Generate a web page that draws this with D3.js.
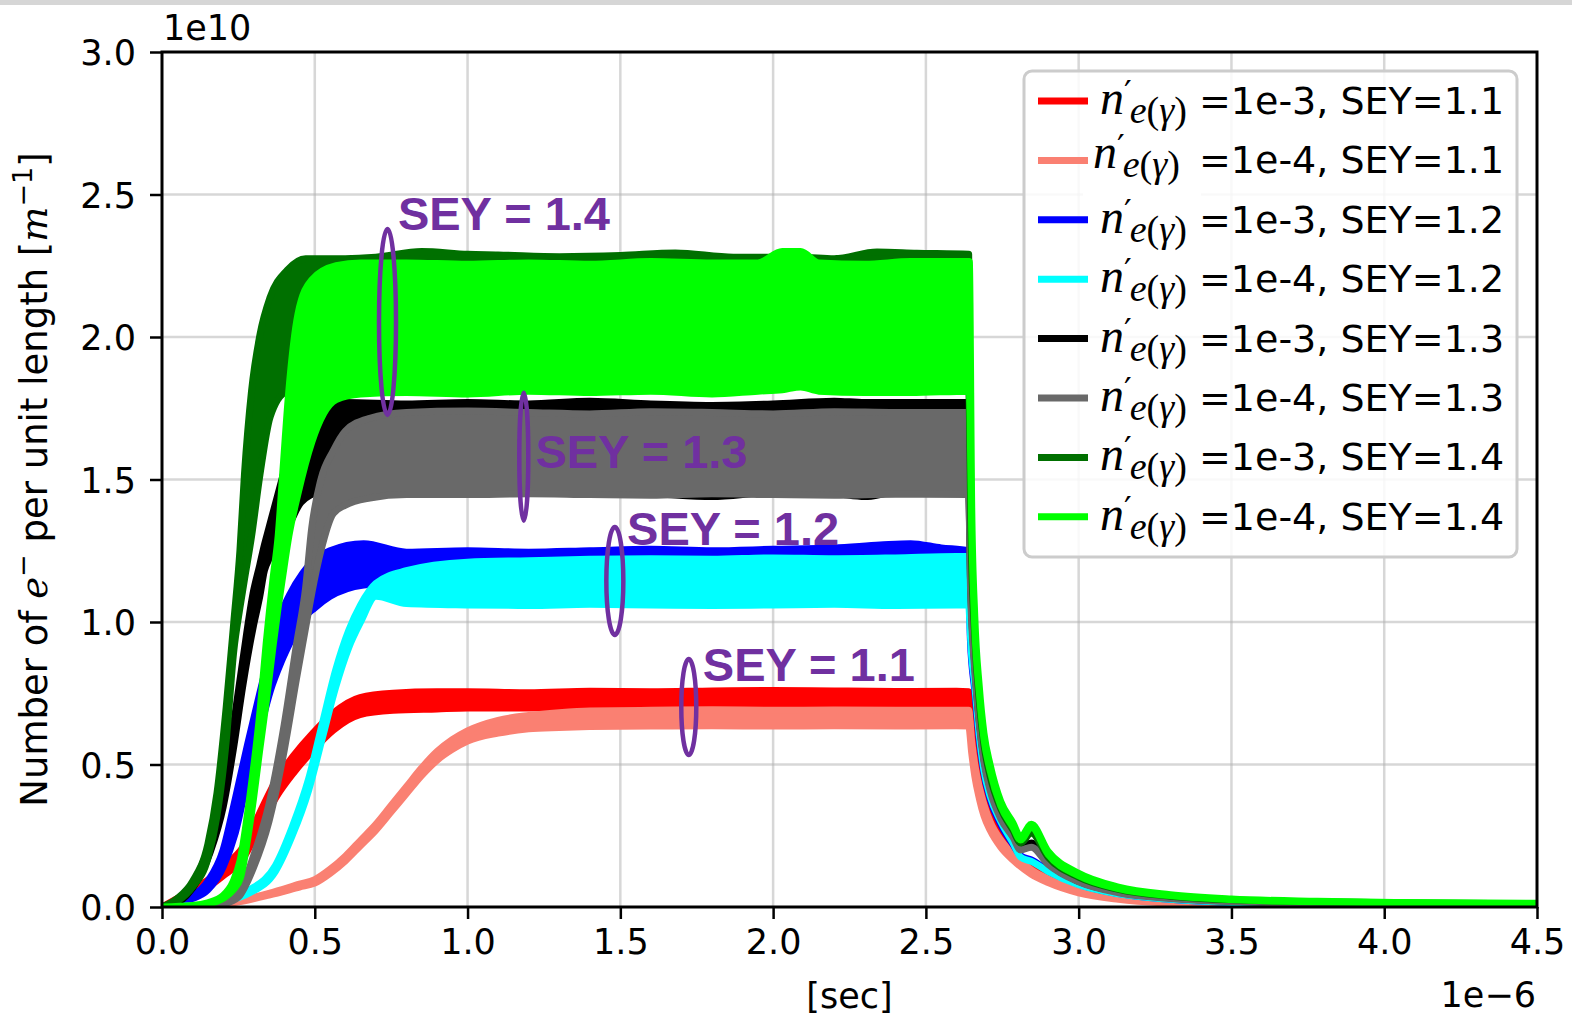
<!DOCTYPE html>
<html>
<head>
<meta charset="utf-8">
<script src="https://cdn.jsdelivr.net/npm/d3@7"></script>
<style>
  body { margin: 0; background: #fff; }
  svg { display: block; }
  .tick text { font-family: "DejaVu Sans"; font-size: 35px; fill: #000; }
</style>
</head>
<body>
<svg></svg>
<script>
// time in 1e-6 s, electrons in 1e10 per m
const xTicks = [0, 0.5, 1.0, 1.5, 2.0, 2.5, 3.0, 3.5, 4.0, 4.5];
const yTicks = [0, 0.5, 1.0, 1.5, 2.0, 2.5, 3.0];

const seriesNames = ["1e-3, SEY=1.1", "1e-4, SEY=1.1", "1e-3, SEY=1.2", "1e-4, SEY=1.2",
                     "1e-3, SEY=1.3", "1e-4, SEY=1.3", "1e-3, SEY=1.4", "1e-4, SEY=1.4"];
const seriesColors = ["#ff0000", "#fa8072", "#0000ff", "#00ffff", "#000000", "#696969", "#007000", "#00ff00"];

// [t, upper envelope, lower envelope]
const red11 = [
  [0, 0, 0], [0.05, 0.03, 0.02], [0.1, 0.06, 0.04], [0.157, 0.1, 0.075], [0.2, 0.14, 0.11],
  [0.265, 0.21, 0.17], [0.32, 0.33, 0.28], [0.376, 0.45, 0.39], [0.43, 0.53, 0.47],
  [0.494, 0.61, 0.55], [0.56, 0.68, 0.62], [0.648, 0.735, 0.675], [0.756, 0.75, 0.69],
  [0.9, 0.755, 0.695], [1.0, 0.755, 0.698], [1.2, 0.752, 0.698], [1.4, 0.757, 0.70],
  [1.6, 0.755, 0.70], [1.8, 0.758, 0.702], [2.0, 0.76, 0.703], [2.2, 0.758, 0.70],
  [2.4, 0.756, 0.70], [2.6, 0.757, 0.70], [2.64, 0.755, 0.70],
  [2.65, 0.62, 0.62], [2.66, 0.54, 0.54], [2.675, 0.45, 0.45], [2.69, 0.385, 0.385],
  [2.71, 0.33, 0.33], [2.745, 0.26, 0.26], [2.785, 0.205, 0.205], [2.81, 0.178, 0.178],
  [2.845, 0.15, 0.15], [2.9, 0.113, 0.113], [3.0, 0.07, 0.07], [3.13, 0.04, 0.04],
  [3.3, 0.021, 0.021], [3.5, 0.011, 0.011], [4.0, 0.005, 0.005], [4.5, 0.003, 0.003]
];
const salmon11 = [
  [0, 0, 0], [0.15, 0.006, 0.004], [0.25, 0.022, 0.018], [0.35, 0.048, 0.042], [0.45, 0.08, 0.07],
  [0.5, 0.096, 0.084], [0.55, 0.132, 0.118], [0.6, 0.178, 0.162], [0.65, 0.234, 0.216],
  [0.7, 0.29, 0.27], [0.75, 0.356, 0.334], [0.8, 0.422, 0.398], [0.85, 0.488, 0.462],
  [0.9, 0.545, 0.515], [0.95, 0.587, 0.553], [1.0, 0.618, 0.582], [1.1, 0.655, 0.61],
  [1.2, 0.672, 0.625], [1.3, 0.682, 0.63], [1.4, 0.688, 0.633], [1.6, 0.69, 0.635],
  [1.8, 0.692, 0.636], [2.0, 0.69, 0.635], [2.2, 0.691, 0.636], [2.4, 0.69, 0.635],
  [2.6, 0.69, 0.636], [2.64, 0.69, 0.635],
  [2.65, 0.58, 0.54], [2.66, 0.50, 0.46], [2.675, 0.42, 0.38], [2.69, 0.36, 0.32],
  [2.71, 0.30, 0.27], [2.745, 0.235, 0.21], [2.785, 0.185, 0.165], [2.845, 0.13, 0.115],
  [2.9, 0.098, 0.086], [3.0, 0.058, 0.05], [3.13, 0.032, 0.027], [3.3, 0.016, 0.013],
  [3.5, 0.008, 0.006], [4.0, 0.004, 0.003], [4.5, 0.003, 0.002]
];
const blue12 = [
  [0, 0, 0], [0.066, 0.025, 0.02], [0.1, 0.04, 0.03], [0.15, 0.09, 0.06], [0.2, 0.2, 0.14],
  [0.24, 0.38, 0.26], [0.28, 0.57, 0.45], [0.32, 0.75, 0.62], [0.355, 0.9, 0.76],
  [0.39, 1.03, 0.86], [0.42, 1.1, 0.93], [0.46, 1.17, 1.01], [0.5, 1.22, 1.05],
  [0.55, 1.25, 1.09], [0.66, 1.275, 1.13], [0.8, 1.245, 1.14], [1.0, 1.25, 1.14],
  [1.2, 1.245, 1.14], [1.4, 1.25, 1.14], [1.6, 1.255, 1.14], [1.8, 1.25, 1.14],
  [2.0, 1.255, 1.14], [2.2, 1.26, 1.14], [2.35, 1.27, 1.14], [2.45, 1.275, 1.14],
  [2.55, 1.26, 1.14], [2.64, 1.25, 1.14],
  [2.646, 0.93, 0.93], [2.66, 0.76, 0.76], [2.675, 0.585, 0.585], [2.69, 0.47, 0.47],
  [2.71, 0.38, 0.38], [2.745, 0.29, 0.29], [2.785, 0.22, 0.22], [2.81, 0.18, 0.18],
  [2.845, 0.165, 0.165], [2.9, 0.128, 0.128], [3.0, 0.08, 0.08], [3.13, 0.047, 0.047],
  [3.3, 0.027, 0.027], [3.5, 0.016, 0.016], [4.0, 0.008, 0.008], [4.5, 0.006, 0.006]
];
const cyan12 = [
  [0, 0, 0], [0.1, 0.004, 0.002], [0.2, 0.022, 0.018], [0.284, 0.058, 0.048], [0.371, 0.145, 0.125],
  [0.426, 0.28, 0.25], [0.48, 0.45, 0.41], [0.524, 0.64, 0.59], [0.568, 0.83, 0.77],
  [0.611, 0.97, 0.91], [0.65, 1.06, 1.0], [0.7, 1.135, 1.09], [0.8, 1.18, 1.065],
  [1.0, 1.21, 1.06], [1.2, 1.215, 1.058], [1.4, 1.22, 1.062], [1.6, 1.222, 1.06],
  [1.8, 1.22, 1.058], [2.0, 1.225, 1.06], [2.2, 1.222, 1.062], [2.4, 1.225, 1.058],
  [2.6, 1.23, 1.06], [2.64, 1.23, 1.06],
  [2.646, 0.95, 0.95], [2.66, 0.78, 0.78], [2.675, 0.6, 0.6], [2.69, 0.48, 0.48],
  [2.71, 0.39, 0.39], [2.745, 0.3, 0.3], [2.785, 0.225, 0.225], [2.81, 0.175, 0.175],
  [2.845, 0.16, 0.16], [2.9, 0.125, 0.125], [3.0, 0.078, 0.078], [3.13, 0.046, 0.046],
  [3.3, 0.027, 0.027], [3.5, 0.016, 0.016], [4.0, 0.008, 0.008], [4.5, 0.006, 0.006]
];
const black13 = [
  [0, 0, 0], [0.05, 0.02, 0.015], [0.08, 0.05, 0.04], [0.157, 0.225, 0.19], [0.2, 0.4, 0.35],
  [0.233, 0.63, 0.55], [0.265, 0.87, 0.78], [0.298, 1.1, 0.98], [0.32, 1.2, 1.09],
  [0.335, 1.27, 1.18], [0.35, 1.33, 1.22], [0.38, 1.45, 1.27], [0.42, 1.6, 1.35],
  [0.455, 1.68, 1.42], [0.52, 1.75, 1.455], [0.6, 1.77, 1.455], [0.8, 1.765, 1.455],
  [1.0, 1.77, 1.45], [1.2, 1.765, 1.455], [1.4, 1.775, 1.455], [1.6, 1.765, 1.45],
  [1.8, 1.76, 1.44], [2.0, 1.765, 1.455], [2.2, 1.775, 1.45], [2.3, 1.77, 1.44],
  [2.4, 1.77, 1.455], [2.64, 1.77, 1.455],
  [2.646, 1.15, 1.15], [2.66, 0.85, 0.85], [2.675, 0.65, 0.65], [2.69, 0.52, 0.52],
  [2.71, 0.42, 0.42], [2.745, 0.32, 0.32], [2.785, 0.25, 0.25], [2.81, 0.21, 0.21],
  [2.845, 0.225, 0.225], [2.9, 0.155, 0.155], [3.0, 0.09, 0.09], [3.13, 0.053, 0.053],
  [3.3, 0.032, 0.032], [3.5, 0.02, 0.02], [4.0, 0.011, 0.011], [4.5, 0.008, 0.008]
];
const gray13 = [
  [0, 0, 0], [0.15, 0.005, 0.003], [0.2, 0.02, 0.01], [0.25, 0.05, 0.035], [0.3, 0.18, 0.14],
  [0.35, 0.36, 0.3], [0.4, 0.64, 0.55], [0.44, 0.92, 0.8], [0.47, 1.12, 0.98],
  [0.49, 1.33, 1.1], [0.52, 1.5, 1.25], [0.56, 1.6, 1.38], [0.6, 1.67, 1.41],
  [0.68, 1.715, 1.435], [0.8, 1.735, 1.447], [1.0, 1.74, 1.447], [1.2, 1.735, 1.45],
  [1.4, 1.73, 1.447], [1.6, 1.738, 1.445], [1.8, 1.735, 1.45], [2.0, 1.73, 1.447],
  [2.2, 1.738, 1.445], [2.4, 1.735, 1.448], [2.64, 1.735, 1.447],
  [2.646, 1.12, 1.12], [2.66, 0.83, 0.83], [2.675, 0.64, 0.64], [2.69, 0.51, 0.51],
  [2.71, 0.41, 0.41], [2.745, 0.31, 0.31], [2.785, 0.245, 0.245], [2.81, 0.2, 0.2],
  [2.845, 0.21, 0.21], [2.9, 0.15, 0.15], [3.0, 0.088, 0.088], [3.13, 0.05, 0.05],
  [3.3, 0.03, 0.03], [3.5, 0.019, 0.019], [4.0, 0.01, 0.01], [4.5, 0.007, 0.007]
];
const green14 = [
  [0, 0, 0], [0.05, 0.03, 0.02], [0.1, 0.09, 0.07], [0.15, 0.22, 0.17], [0.18, 0.4, 0.32],
  [0.21, 0.7, 0.58], [0.235, 1.0, 0.9], [0.255, 1.25, 1.05], [0.27, 1.52, 1.15],
  [0.293, 1.81, 1.3], [0.321, 2.01, 1.52], [0.354, 2.14, 1.72], [0.41, 2.235, 1.81],
  [0.47, 2.275, 1.82], [0.6, 2.275, 1.82], [0.7, 2.28, 1.82], [0.85, 2.3, 1.82],
  [1.0, 2.29, 1.82], [1.1, 2.288, 1.82], [1.3, 2.282, 1.82], [1.5, 2.286, 1.82],
  [1.68, 2.295, 1.82], [1.87, 2.28, 1.82], [2.09, 2.28, 1.83], [2.2, 2.275, 1.82],
  [2.34, 2.298, 1.82], [2.47, 2.294, 1.82], [2.64, 2.29, 1.82],
  [2.648, 1.3, 1.3], [2.66, 0.95, 0.95], [2.675, 0.72, 0.72], [2.69, 0.57, 0.57],
  [2.71, 0.46, 0.46], [2.745, 0.345, 0.345], [2.785, 0.27, 0.27], [2.81, 0.225, 0.225],
  [2.845, 0.26, 0.26], [2.9, 0.175, 0.175], [3.0, 0.105, 0.105], [3.13, 0.062, 0.062],
  [3.3, 0.038, 0.038], [3.5, 0.025, 0.025], [4.0, 0.015, 0.015], [4.5, 0.011, 0.011]
];
const lime14 = [
  [0, 0, 0], [0.1, 0.005, 0.003], [0.15, 0.015, 0.01], [0.2, 0.04, 0.03], [0.233, 0.09, 0.06],
  [0.256, 0.165, 0.1], [0.289, 0.4, 0.3], [0.321, 0.69, 0.56], [0.341, 0.926, 0.72],
  [0.364, 1.158, 0.92], [0.38, 1.3, 1.05], [0.395, 1.52, 1.16], [0.415, 1.81, 1.3],
  [0.445, 2.08, 1.45], [0.49, 2.2, 1.63], [0.57, 2.25, 1.78], [0.65, 2.26, 1.8],
  [0.8, 2.26, 1.805], [1.0, 2.255, 1.8], [1.2, 2.26, 1.81], [1.4, 2.255, 1.805],
  [1.6, 2.265, 1.81], [1.8, 2.26, 1.8], [1.95, 2.26, 1.81], [2.03, 2.3, 1.815],
  [2.09, 2.3, 1.825], [2.15, 2.26, 1.81], [2.3, 2.255, 1.805], [2.45, 2.265, 1.805],
  [2.642, 2.265, 1.81],
  [2.65, 1.4, 1.32], [2.66, 1.02, 0.98], [2.675, 0.77, 0.75], [2.69, 0.61, 0.59],
  [2.71, 0.5, 0.48], [2.745, 0.37, 0.355], [2.785, 0.295, 0.28], [2.81, 0.245, 0.235],
  [2.845, 0.29, 0.28], [2.9, 0.195, 0.185], [3.0, 0.118, 0.11], [3.13, 0.07, 0.065],
  [3.3, 0.043, 0.04], [3.5, 0.028, 0.026], [3.78, 0.02, 0.018], [4.05, 0.016, 0.014],
  [4.5, 0.013, 0.011]
];
const seriesData = [red11, salmon11, blue12, cyan12, black13, gray13, green14, lime14];

// purple call-outs: ellipse centre (t, value) and label anchor (t, value)
const calloutText = ["SEY = 1.4", "SEY = 1.3", "SEY = 1.2", "SEY = 1.1"];
const calloutEllipse = [[0.738, 2.053], [1.184, 1.58], [1.482, 1.144], [1.724, 0.702]];
const calloutEllipseSize = [[8.5, 93], [4.5, 64], [8.5, 54], [7.5, 48]];
const calloutLabel = [[0.772, 2.375], [1.222, 1.54], [1.522, 1.27], [1.77, 0.794]];

const width = 1572;
const height = 1015;
const mLeft = 162, mRight = 1537, mTop = 52, mBottom = 907;

const svg = d3.select("svg").attr("width", width).attr("height", height);
svg.append("rect").attr("width", width).attr("height", height).attr("fill", "#fff");
svg.append("rect").attr("width", width).attr("height", 5).attr("fill", "#d6d6d6");

const x = d3.scaleLinear().domain([0, 4.5]).range([mLeft, mRight]);
const y = d3.scaleLinear().domain([0, 3.0]).range([mBottom, mTop]);

// grid
const grid = svg.append("g").attr("stroke", "#b0b0b0").attr("stroke-opacity", 0.5).attr("stroke-width", 2.5);
grid.selectAll("line.gx").data(xTicks.slice(1, -1)).enter().append("line")
  .attr("x1", d => x(d)).attr("x2", d => x(d)).attr("y1", mTop).attr("y2", mBottom);
grid.selectAll("line.gy").data(yTicks.slice(1, -1)).enter().append("line")
  .attr("x1", mLeft).attr("x2", mRight).attr("y1", d => y(d)).attr("y2", d => y(d));

// series
svg.append("clipPath").attr("id", "plot").append("rect")
  .attr("x", mLeft).attr("y", mTop).attr("width", mRight - mLeft).attr("height", mBottom - mTop);

const area = d3.area().curve(d3.curveMonotoneX)
  .x(d => x(d[0])).y0(d => y(d[2])).y1(d => y(d[1]));
const lines = svg.append("g").attr("clip-path", "url(#plot)");
seriesData.forEach((data, i) => {
  lines.append("path").datum(data).attr("d", area)
    .attr("fill", seriesColors[i]).attr("stroke", seriesColors[i])
    .attr("stroke-width", 7).attr("stroke-linejoin", "round").attr("stroke-linecap", "round");
});

// call-outs
const purple = "#7030a0";
calloutText.forEach((t, i) => {
  svg.append("ellipse")
    .attr("cx", x(calloutEllipse[i][0])).attr("cy", y(calloutEllipse[i][1]))
    .attr("rx", calloutEllipseSize[i][0]).attr("ry", calloutEllipseSize[i][1])
    .attr("fill", "none").attr("stroke", purple).attr("stroke-width", 4.5);
  svg.append("text").text(t)
    .attr("x", x(calloutLabel[i][0])).attr("y", y(calloutLabel[i][1]))
    .attr("font-family", "Liberation Sans").attr("font-weight", "bold").attr("font-size", 47)
    .attr("fill", purple);
});

// axes
const xAxis = d3.axisBottom(x).tickValues(xTicks).tickFormat(d3.format(".1f")).tickSize(12).tickPadding(10);
const yAxis = d3.axisLeft(y).tickValues(yTicks).tickFormat(d3.format(".1f")).tickSize(12).tickPadding(14);
const gx = svg.append("g").attr("transform", `translate(0, ${mBottom})`).call(xAxis);
const gy = svg.append("g").attr("transform", `translate(${mLeft}, 0)`).call(yAxis);
[gx, gy].forEach(g => {
  g.select(".domain").remove();
  g.selectAll(".tick line").attr("stroke", "#000").attr("stroke-width", 2.5);
});
gy.selectAll(".tick text").attr("dy", "0.36em");

svg.append("rect").attr("x", mLeft).attr("y", mTop).attr("width", mRight - mLeft).attr("height", mBottom - mTop)
  .attr("fill", "none").attr("stroke", "#000").attr("stroke-width", 3);

svg.append("text").text("1e10").attr("x", 163).attr("y", 40)
  .attr("font-family", "DejaVu Sans").attr("font-size", 35);
svg.append("text").text("1e\u22126").attr("x", 1536).attr("y", 1007).attr("text-anchor", "end")
  .attr("font-family", "DejaVu Sans").attr("font-size", 35);
svg.append("text").text("[sec]").attr("x", (mLeft + mRight) / 2).attr("y", 1008).attr("text-anchor", "middle")
  .attr("font-family", "DejaVu Sans").attr("font-size", 35);

const ylab = svg.append("text")
  .attr("transform", `translate(47, ${(mTop + mBottom) / 2}) rotate(-90)`)
  .attr("text-anchor", "middle").attr("font-family", "DejaVu Sans").attr("font-size", 37);
ylab.append("tspan").text("Number of ");
ylab.append("tspan").text("e").attr("font-family", "DejaVu Serif").attr("font-style", "italic");
ylab.append("tspan").text("\u2212").attr("font-size", 27).attr("dy", -15);
ylab.append("tspan").text(" per unit length [").attr("dy", 15);
ylab.append("tspan").text("m").attr("font-family", "DejaVu Serif").attr("font-style", "italic");
ylab.append("tspan").text("\u22121").attr("font-size", 27).attr("dy", -15);
ylab.append("tspan").text("]").attr("dy", 15);

// legend
const legend = svg.append("g");
legend.append("rect").attr("x", 1024).attr("y", 71).attr("width", 493).attr("height", 486).attr("rx", 8)
  .attr("fill", "#fff").attr("fill-opacity", 0.85).attr("stroke", "#cccccc").attr("stroke-width", 3);
legend.append("rect").attr("x", 1083).attr("y", 131).attr("width", 118).attr("height", 65).attr("fill", "#fff");

seriesNames.forEach((name, i) => {
  const ly = 101 + i * 59.4;
  const off = i === 1 ? [-7, -5] : [0, 0];
  const row = legend.append("g");
  row.append("line").attr("x1", 1038).attr("x2", 1088).attr("y1", ly).attr("y2", ly)
    .attr("stroke", seriesColors[i]).attr("stroke-width", 7);
  // n'_{e(gamma)} as one text
  const math = row.append("text").attr("x", 1100 + off[0]).attr("y", ly + 13 + off[1])
    .attr("font-family", "Liberation Serif").attr("font-size", 38);
  math.append("tspan").text("n").attr("font-style", "italic").attr("font-size", 48);
  math.append("tspan").text("\u2032").attr("font-family", "DejaVu Sans").attr("font-size", 34)
    .attr("dy", -9);
  math.append("tspan").text("e").attr("font-style", "italic").attr("dx", -2).attr("dy", 18);
  math.append("tspan").text("(");
  math.append("tspan").text("\u03b3").attr("font-style", "italic");
  math.append("tspan").text(")");
  row.append("text").text("=" + name).attr("x", 1199).attr("y", ly + 13)
    .attr("font-family", "DejaVu Sans").attr("font-size", 38);
});
</script>
</body>
</html>
